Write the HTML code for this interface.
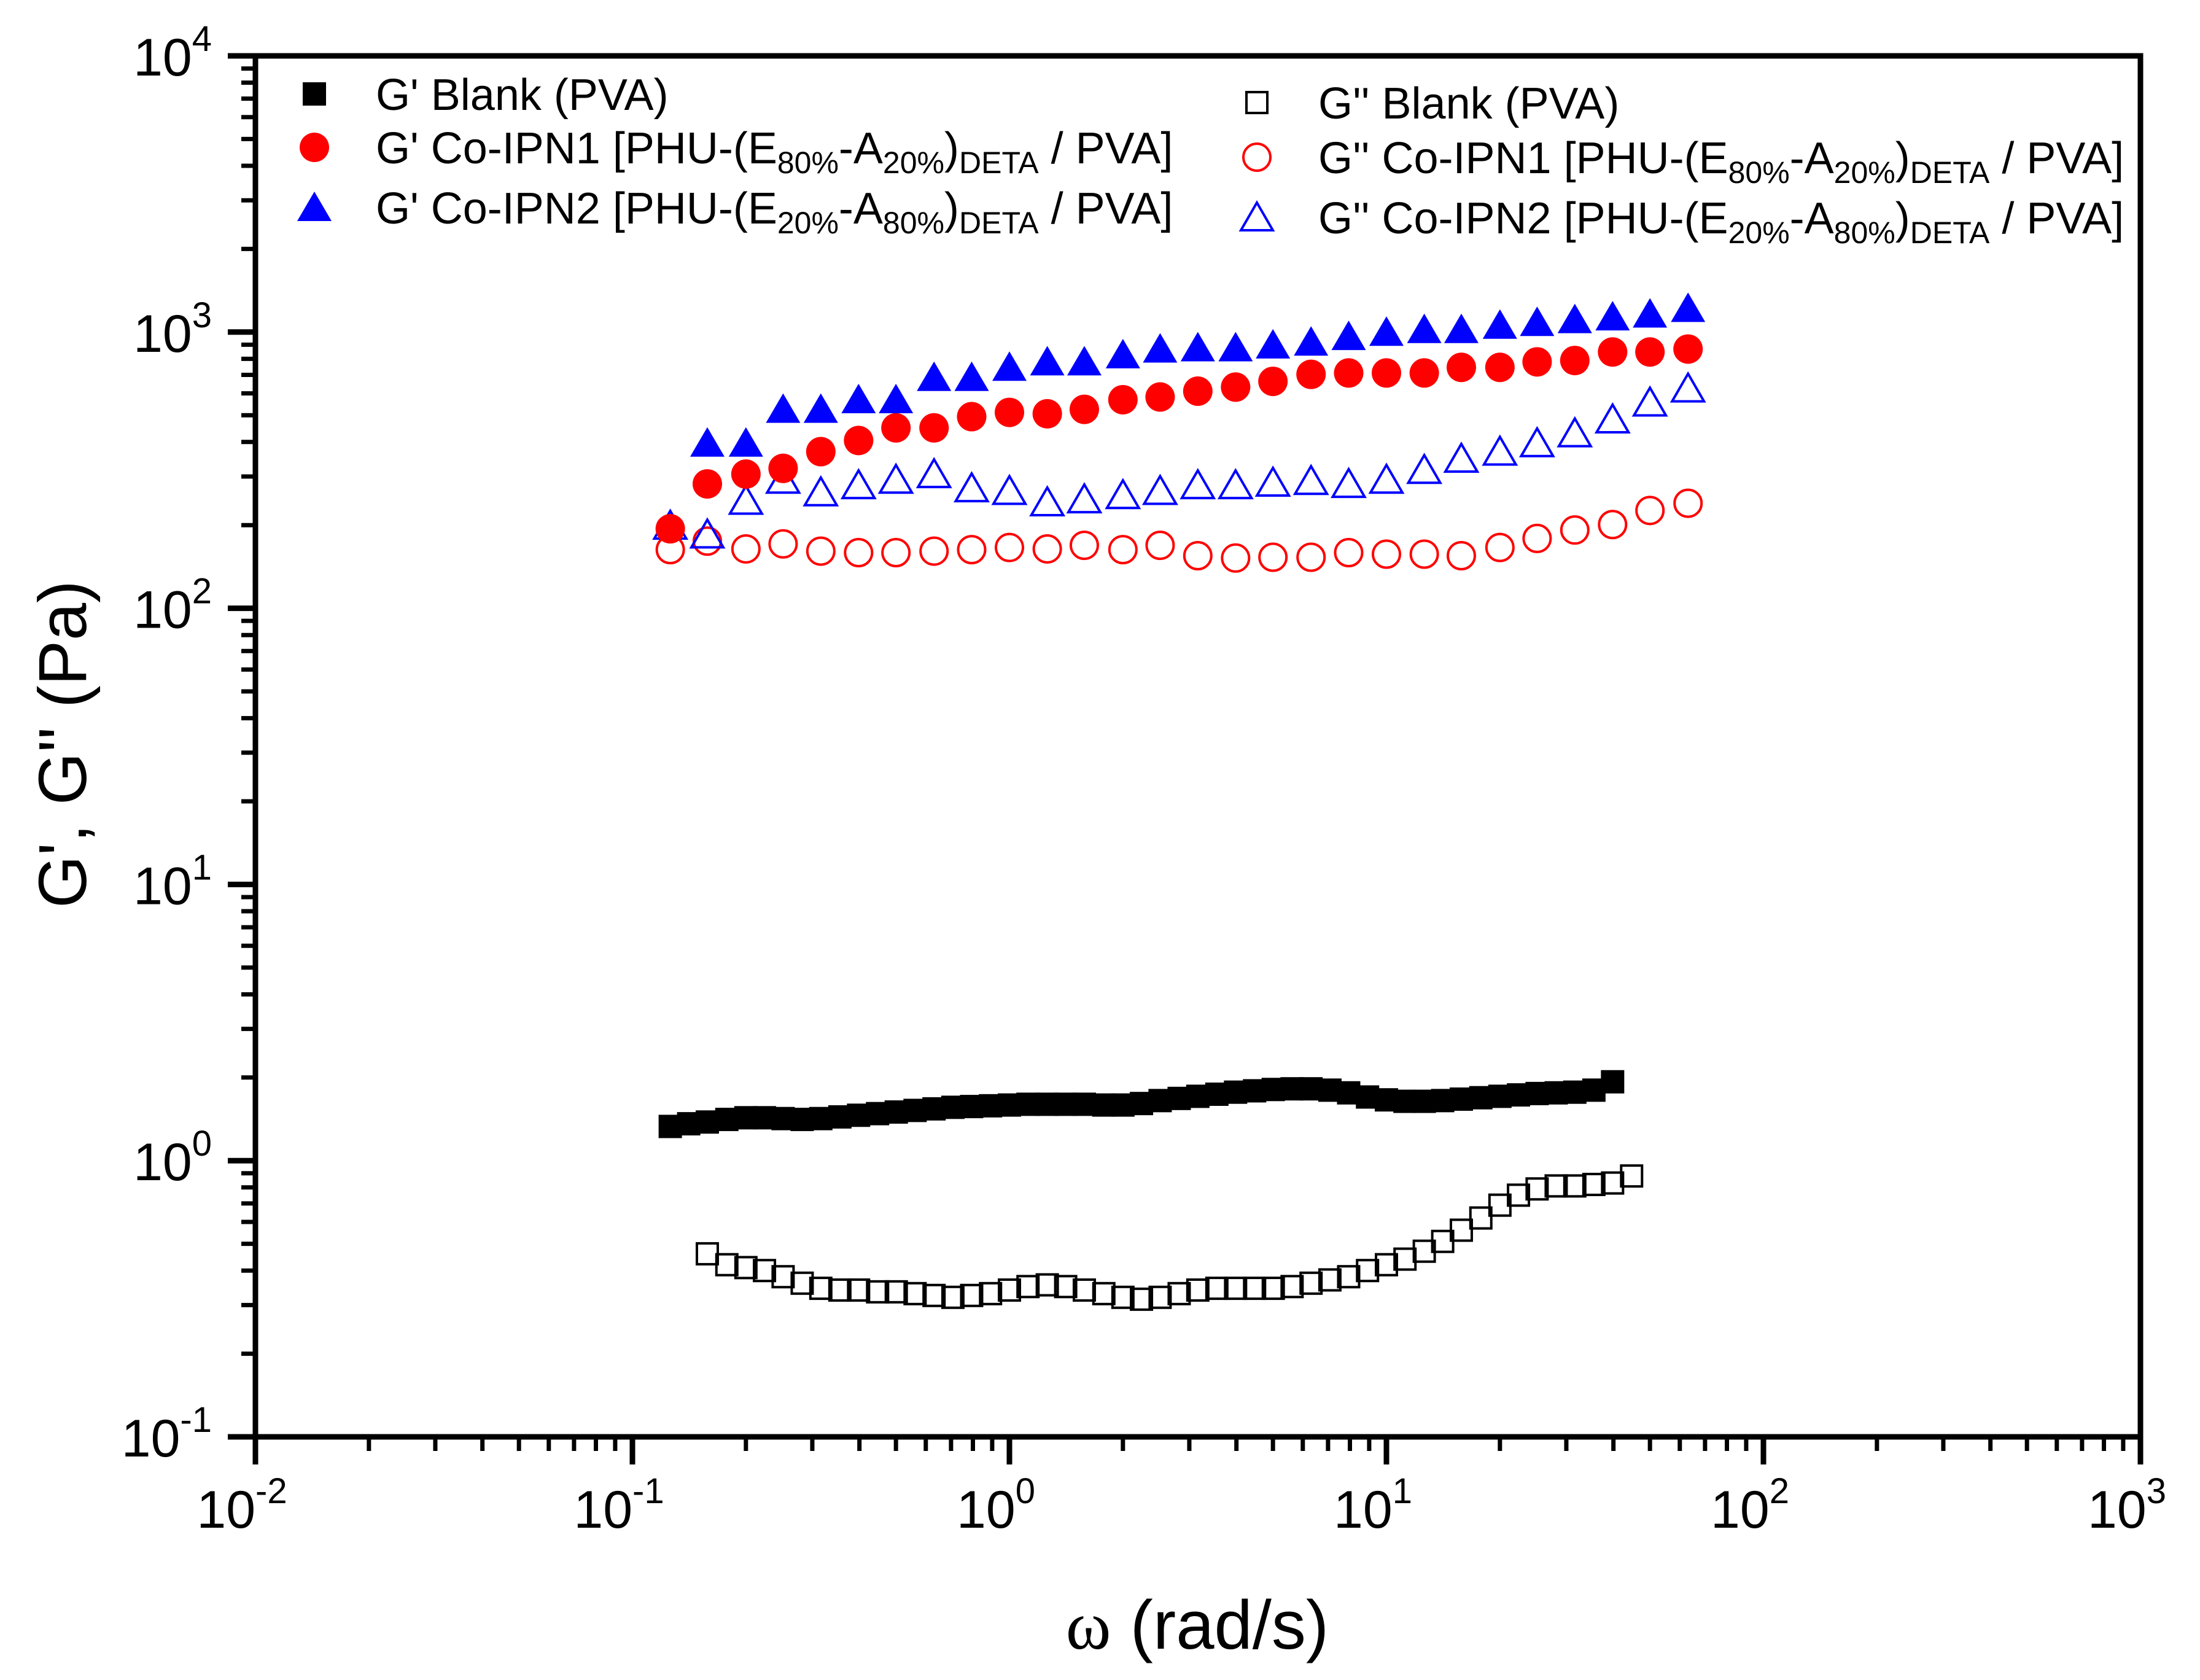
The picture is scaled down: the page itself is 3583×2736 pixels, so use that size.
<!DOCTYPE html>
<html><head><meta charset="utf-8"><style>
html,body{margin:0;padding:0;background:#fff}
svg{display:block;font-family:"Liberation Sans",Arial,sans-serif}
</style></head><body>
<svg id="chart" xmlns="http://www.w3.org/2000/svg" width="3583" height="2736" viewBox="0 0 3583 2736">
<rect width="3583" height="2736" fill="#fff"/>
<g id="axes"></g>
<g id="marks"></g>
<g id="legend"></g>
<text transform="translate(140,1212) rotate(-90)" text-anchor="middle" font-size="110">G', G'' (Pa)</text>
<text x="1950" y="2685" text-anchor="middle" font-size="112"><tspan font-family="Liberation Serif,serif">ω</tspan> (rad/s)</text>
</svg>
<script>
const xDecades = [-2,-1,0,1,2,3];
const yDecades = [-1,0,1,2,3,4];
const xTickLabels = ["-2","-1","0","1","2","3"];
const yTickLabels = ["-1","0","1","2","3","4"];

const omega28 = [0.126,0.158,0.2,0.251,0.316,0.398,0.5,0.631,0.794,1,1.26,1.58,2,2.51,3.16,3.98,5,6.31,7.94,10,12.6,15.8,20,25.1,31.6,39.8,50,63.1];
const omega27 = [0.158,0.2,0.251,0.316,0.398,0.5,0.631,0.794,1,1.26,1.58,2,2.51,3.16,3.98,5,6.31,7.94,10,12.6,15.8,20,25.1,31.6,39.8,50,63.1];
const gpIPN2 = [396,396,525,525,569,569,685,685,745,780,780,827,868,877,877,898,919,963,998,1021,1021,1058,1083,1109,1135,1162,1217];
const gpIPN1 = [194,282,306,321,369,405,450,450,494,512,506,525,569,582,611,632,663,703,711,711,711,745,745,780,789,847,847,868];
const gppIPN2 = [199,185,245,292,263,279,292,306,272,266,242,248,257,266,279,279,285,289,282,292,317,348,369,396,430,483,556,625];
const gppIPN1 = [163,175,164,171,161,159,159,161,163,166,164,169,163,169,155,152,153,153,159,157,157,155,166,179,192,201,226,240];

const omegaBlankGp = [0.126,0.141,0.158,0.178,0.2,0.224,0.251,0.282,0.316,0.355,0.398,0.447,0.501,0.562,0.631,0.708,0.794,0.891,1,1.12,1.26,1.41,1.58,1.78,2,2.24,2.51,2.82,3.16,3.55,3.98,4.47,5.01,5.62,6.31,7.08,7.94,8.91,10,11.2,12.6,14.1,15.8,17.8,20,22.4,25.1,28.2,31.6,35.5,39.8];
const gpBlank = [1.33,1.36,1.38,1.41,1.43,1.43,1.42,1.41,1.42,1.44,1.46,1.48,1.50,1.52,1.54,1.56,1.57,1.58,1.59,1.60,1.60,1.60,1.60,1.59,1.59,1.61,1.65,1.68,1.71,1.74,1.77,1.79,1.81,1.82,1.82,1.80,1.76,1.70,1.66,1.64,1.64,1.65,1.67,1.69,1.71,1.73,1.75,1.76,1.77,1.80,1.93];
const omegaBlankGpp = [0.158,0.178,0.2,0.224,0.251,0.282,0.316,0.355,0.398,0.447,0.501,0.562,0.631,0.708,0.794,0.891,1,1.12,1.26,1.41,1.58,1.78,2,2.24,2.51,2.82,3.16,3.55,3.98,4.47,5.01,5.62,6.31,7.08,7.94,8.91,10,11.2,12.6,14.1,15.8,17.8,20,22.4,25.1,28.2,31.6,35.5,39.8,44.7];
const gppBlank = [0.46,0.42,0.41,0.40,0.38,0.36,0.345,0.34,0.34,0.335,0.335,0.33,0.325,0.32,0.325,0.33,0.34,0.35,0.355,0.35,0.34,0.33,0.32,0.315,0.32,0.33,0.34,0.345,0.345,0.345,0.345,0.35,0.36,0.37,0.38,0.40,0.42,0.44,0.47,0.51,0.56,0.62,0.69,0.75,0.79,0.81,0.81,0.82,0.83,0.88];

const L=416,R=3486,T=91,B=2340;
const xs = v => L + (Math.log10(v)+2)*(R-L)/5;
const ys = v => B - (Math.log10(v)+1)*(B-T)/5;
const NS="http://www.w3.org/2000/svg";
function mk(tag, attrs, parent){const e=document.createElementNS(NS,tag);for(const k in attrs)e.setAttribute(k,attrs[k]);parent.appendChild(e);return e;}

const axes=document.getElementById('axes');
const frame=mk('rect',{x:L,y:T,width:R-L,height:B-T,fill:'none',stroke:'#000','stroke-width':9},axes);



xDecades.forEach((d,i)=>{
  const x=xs(Math.pow(10,d));
  const t=mk('line',{x1:x,x2:x,y1:B,y2:B+45,stroke:'#000','stroke-width':9},axes);
  
  
  if(i<xDecades.length-1){for(let m=2;m<10;m++){const xm=xs(m*Math.pow(10,d));
    const mt=mk('line',{x1:xm,x2:xm,y1:B,y2:B+23,stroke:'#000','stroke-width':7},axes);
    
    }}
  const lb=mk('text',{x:x-22,y:B+148,'text-anchor':'middle','font-size':86},axes);
  
  
  lb.innerHTML='10<tspan font-size="58" dy="-40">'+xTickLabels[i]+'</tspan>';
});
yDecades.forEach((d,i)=>{
  const y=ys(Math.pow(10,d));
  const t=mk('line',{x1:L-45,x2:L,y1:y,y2:y,stroke:'#000','stroke-width':9},axes);
  
  
  if(i<yDecades.length-1){for(let m=2;m<10;m++){const ym=ys(m*Math.pow(10,d));
    const mt=mk('line',{x1:L-23,x2:L,y1:ym,y2:ym,stroke:'#000','stroke-width':7},axes);
    
    }}
  const lb=mk('text',{x:345,y:y+32,'text-anchor':'end','font-size':86},axes);
  
  
  lb.innerHTML='10<tspan font-size="58" dy="-40">'+yTickLabels[i]+'</tspan>';
});

function marker(type,x,y,color,parent){
  let e;
  if(type==='sqF') e=mk('rect',{x:x-19,y:y-19,width:38,height:38,fill:color},parent);
  if(type==='sqO') e=mk('rect',{x:x-17,y:y-17,width:34,height:34,fill:'none',stroke:color,'stroke-width':4},parent);
  if(type==='ciF') e=mk('circle',{cx:x,cy:y,r:24,fill:color},parent);
  if(type==='ciO') e=mk('circle',{cx:x,cy:y,r:22,fill:'none',stroke:color,'stroke-width':4},parent);
  if(type==='trF') e=mk('polygon',{points:`${x},${y-26} ${x-28},${y+22} ${x+28},${y+22}`,fill:color},parent);
  if(type==='trO') e=mk('polygon',{points:`${x},${y-24} ${x-26},${y+21} ${x+26},${y+21}`,fill:'none',stroke:color,'stroke-width':4},parent);
  return e;
}
const marks=document.getElementById('marks');
function series(xArr,yArr,type,color,name){
  const g=mk('g',{},marks);
  
  
  yArr.forEach((v,i)=>{
    const p=marker(type,xs(xArr[i]),ys(v),color,g);
    
    
  });
}
series(omegaBlankGp,gpBlank,'sqF','#000','series-gp-blank');
series(omegaBlankGpp,gppBlank,'sqO','#000','series-gpp-blank');
series(omega28,gppIPN1,'ciO','#f00','series-gpp-ipn1');
series(omega28,gppIPN2,'trO','#00f','series-gpp-ipn2');
series(omega28,gpIPN1,'ciF','#f00','series-gp-ipn1');
series(omega27,gpIPN2,'trF','#00f','series-gp-ipn2');

const sub=(a,b)=>'<tspan font-size="50" dy="16">'+a+'</tspan><tspan dy="-16">-A</tspan><tspan font-size="50" dy="16">'+b+'</tspan><tspan dy="-16">)</tspan><tspan font-size="50" dy="16">DETA</tspan><tspan dy="-16"> / PVA]</tspan>';
const legend=document.getElementById('legend');
const entries=[
 ['sqF','#000',512,153,'G\' Blank (PVA)'],
 ['ciF','#f00',512,240,'G\' Co-IPN1 [PHU-(E'+sub('80%','20%')],
 ['trF','#00f',512,338,'G\' Co-IPN2 [PHU-(E'+sub('20%','80%')],
 ['sqO','#000',2047,167,'G\'\' Blank (PVA)'],
 ['ciO','#f00',2047,256,'G\'\' Co-IPN1 [PHU-(E'+sub('80%','20%')],
 ['trO','#00f',2047,354,'G\'\' Co-IPN2 [PHU-(E'+sub('20%','80%')]
];
entries.forEach(e=>{
  const g=mk('g',{},legend);
  
  
  marker(e[0],e[2],e[3],e[1],g);
  const t=mk('text',{x:e[2]+100,y:e[3]+26,'font-size':72},g);
  t.innerHTML=e[4];
});
</script>
</body></html>
